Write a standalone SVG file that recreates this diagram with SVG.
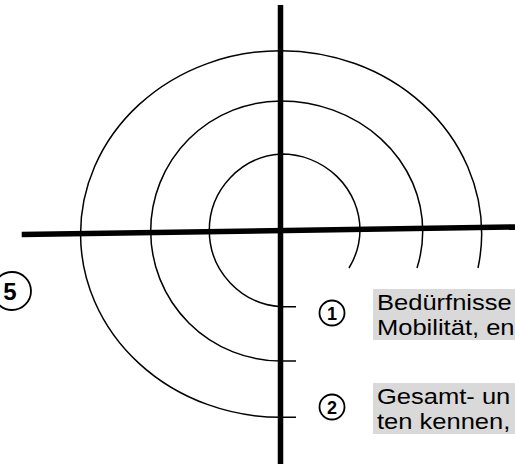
<svg xmlns="http://www.w3.org/2000/svg" width="515" height="464" viewBox="0 0 515 464">
<style>
.arc{fill:none;stroke:#000;stroke-width:1.5}
.axis{stroke:#000;stroke-width:5.5;fill:none}
.num{fill:#fff;stroke:#000;stroke-width:1.8}
.numt{font-family:"Liberation Sans",Arial,sans-serif;font-weight:bold;fill:#000;text-anchor:middle}
.box{fill:#d9d9d9}
.lbl{font-family:"Liberation Sans",Arial,sans-serif;font-size:22px;fill:#000}
</style>
<rect width="515" height="464" fill="#fff"/>
<g id="rings">
<path id="ring-inner" class="arc" d="M296 306.7 H281 A76.5 76.5 0 0 1 281 154 A79 76.5 0 0 1 360 230.5 A79 76.5 0 0 1 349 268"/>
<path id="ring-middle" class="arc" d="M296 361 H281 A130.3 130 0 0 1 281 101 A141.7 130 0 0 1 422.7 231 A141.7 130 0 0 1 417 268"/>
<path id="ring-outer" class="arc" d="M296 417.3 H281 A200.5 183.3 0 0 1 281 50.7 A200.7 183.3 0 0 1 481.7 234 A200.7 183.3 0 0 1 478 268"/>
</g>
<g id="axes">
<line class="axis" x1="280.5" y1="5" x2="280.5" y2="464"/>
<line class="axis" x1="21.7" y1="234.5" x2="515" y2="227"/>
</g>
<g id="marker-5">
<circle class="num" cx="12" cy="291" r="19"/>
<text class="numt" x="10" y="299.5" font-size="24">5</text>
</g>
<g id="item-1">
<circle class="num" cx="332" cy="313" r="12.5"/>
<text class="numt" x="332" y="319.5" font-size="18">1</text>
<rect class="box" x="373" y="289" width="142" height="51"/>
<text class="lbl" transform="translate(377 0) scale(1.16 1)" x="0" y="310">Bedürfnisse</text>
<text class="lbl" transform="translate(377 0) scale(1.16 1)" x="0" y="335">Mobilität, en</text>
</g>
<g id="item-2">
<circle class="num" cx="332" cy="407" r="12.5"/>
<text class="numt" x="332" y="413.5" font-size="18">2</text>
<rect class="box" x="373" y="383" width="142" height="51"/>
<text class="lbl" transform="translate(377 0) scale(1.16 1)" x="0" y="404">Gesamt- un</text>
<text class="lbl" transform="translate(377 0) scale(1.16 1)" x="0" y="429">ten kennen,</text>
</g>
</svg>
